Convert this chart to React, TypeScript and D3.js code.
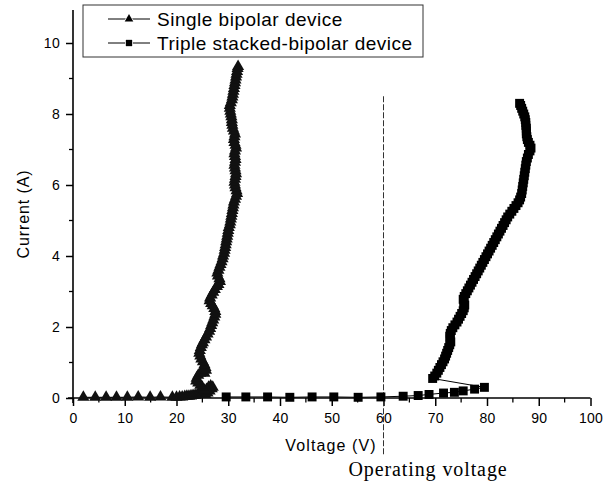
import React, { useEffect, useRef } from "react";
import * as d3 from "d3";

const singleV = [2, 4.3, 6.4, 8.4, 10.5, 12.6, 14.9, 16.9, 19.2,
  20.0, 20.6, 21.1, 21.6, 22.0, 22.4, 22.8, 23.2, 23.6, 24.0, 24.4, 24.8, 25.2, 25.6, 26.0, 26.4, 26.8, 27.0, 26.6, 26.2, 25.8, 25.4, 25.0, 24.6, 24.2, 23.8, 23.9, 24.2, 24.6, 25.0, 25.4, 25.7, 25.6, 25.4, 25.1, 24.8, 24.6, 24.4, 24.5, 24.7, 24.9, 25.1, 25.4, 25.7, 26.0, 26.3, 26.5, 26.7, 26.9, 27.1, 27.3, 27.5, 27.5, 27.3, 27.0, 26.7, 26.4, 26.5, 26.8, 27.1, 27.4, 27.8, 28.1, 28.4, 28.3, 28.0, 27.9, 28.1, 28.3, 28.5, 28.7, 28.9, 29.0, 29.2, 29.3, 29.4, 29.5, 29.6, 29.7, 29.8, 29.9, 30.0, 30.1, 30.3, 30.4, 30.5, 30.6, 30.7, 30.8, 30.9, 31.0, 31.1, 31.3, 31.5, 31.7, 31.6, 31.4, 31.3, 31.2, 31.3, 31.4, 31.5, 31.4, 31.3, 31.2, 31.3, 31.4, 31.3, 31.2, 31.3, 31.5, 31.4, 31.2, 31.1, 31.2, 31.3, 31.1, 30.9, 30.8, 30.7, 30.7, 30.6, 30.5, 30.4, 30.3, 30.3, 30.5, 30.7, 30.8, 30.9, 31.0, 31.1, 31.2, 31.3, 31.4, 31.5, 31.6, 31.7, 31.8, 31.9];
const singleI = [0.02, 0.02, 0.02, 0.02, 0.02, 0.03, 0.02, 0.03, 0.02,
  0.02, 0.03, 0.03, 0.04, 0.05, 0.05, 0.06, 0.07, 0.08, 0.09, 0.1, 0.11, 0.12, 0.1, 0.14, 0.2, 0.26, 0.3, 0.34, 0.3, 0.24, 0.22, 0.3, 0.36, 0.42, 0.48, 0.56, 0.64, 0.7, 0.72, 0.7, 0.78, 0.86, 0.94, 1.02, 1.1, 1.18, 1.26, 1.34, 1.42, 1.5, 1.56, 1.64, 1.72, 1.8, 1.88, 1.96, 2.04, 2.12, 2.2, 2.28, 2.36, 2.44, 2.52, 2.6, 2.66, 2.74, 2.82, 2.9, 2.98, 3.06, 3.14, 3.2, 3.28, 3.36, 3.44, 3.52, 3.6, 3.68, 3.76, 3.84, 3.92, 4.0, 4.08, 4.16, 4.24, 4.32, 4.4, 4.48, 4.56, 4.64, 4.72, 4.8, 4.88, 4.96, 5.04, 5.12, 5.2, 5.28, 5.36, 5.44, 5.52, 5.6, 5.68, 5.76, 5.84, 5.92, 6.0, 6.08, 6.16, 6.24, 6.32, 6.4, 6.48, 6.56, 6.64, 6.72, 6.8, 6.88, 6.96, 7.04, 7.12, 7.2, 7.28, 7.36, 7.44, 7.52, 7.6, 7.68, 7.76, 7.84, 7.92, 8.0, 8.08, 8.16, 8.24, 8.32, 8.4, 8.48, 8.56, 8.64, 8.72, 8.8, 8.88, 8.96, 9.04, 9.12, 9.2, 9.28, 9.34];

const tripleV = [29.6, 33.4, 37.6, 41.9, 46.2, 50.4, 55.1, 59.5, 63.8, 66.7, 68.8, 71.6, 73.7, 75.4, 77.6, 79.5,
  69.5, 69.9, 70.3, 70.6, 70.9, 71.2, 71.5, 71.8, 72.0, 72.2, 72.4, 72.6, 72.8, 73.0, 72.9, 72.8, 72.9, 73.1, 73.4, 73.8, 74.2, 74.5, 74.8, 75.1, 75.4, 75.6, 75.7, 75.5, 75.4, 75.6, 75.9, 76.2, 76.5, 76.8, 77.1, 77.4, 77.7, 78.0, 78.3, 78.6, 78.9, 79.2, 79.5, 79.8, 80.1, 80.4, 80.7, 81.0, 81.3, 81.6, 81.9, 82.2, 82.5, 82.8, 83.1, 83.4, 83.7, 84.0, 84.4, 84.8, 85.2, 85.6, 86.0, 86.3, 86.5, 86.7, 86.8, 86.9, 87.0, 87.1, 87.2, 87.3, 87.4, 87.5, 87.6, 87.8, 88.0, 88.3, 88.5, 88.3, 88.0, 87.8, 87.7, 87.6, 87.6, 87.6, 87.5, 87.5, 87.4, 87.3, 87.1, 86.9, 86.7, 86.5, 86.3];
const tripleI = [0.03, 0.03, 0.03, 0.02, 0.03, 0.03, 0.02, 0.03, 0.05, 0.07, 0.1, 0.14, 0.16, 0.2, 0.25, 0.3,
  0.55, 0.62, 0.7, 0.78, 0.86, 0.94, 1.02, 1.1, 1.18, 1.26, 1.34, 1.42, 1.5, 1.58, 1.66, 1.74, 1.82, 1.9, 1.98, 2.06, 2.14, 2.22, 2.3, 2.38, 2.46, 2.54, 2.62, 2.7, 2.78, 2.86, 2.94, 3.02, 3.1, 3.18, 3.26, 3.34, 3.42, 3.5, 3.58, 3.66, 3.74, 3.82, 3.9, 3.98, 4.06, 4.14, 4.22, 4.3, 4.38, 4.46, 4.54, 4.62, 4.7, 4.78, 4.86, 4.94, 5.02, 5.1, 5.18, 5.26, 5.34, 5.42, 5.5, 5.58, 5.66, 5.76, 5.86, 5.96, 6.06, 6.16, 6.26, 6.36, 6.46, 6.56, 6.66, 6.76, 6.86, 6.96, 7.04, 7.12, 7.2, 7.28, 7.36, 7.44, 7.52, 7.6, 7.68, 7.76, 7.84, 7.92, 8.0, 8.08, 8.16, 8.24, 8.3];

const xTicks = [0, 10, 20, 30, 40, 50, 60, 70, 80, 90, 100];
const yTicks = [0, 2, 4, 6, 8, 10];
const seriesNames = ["Single bipolar device", "Triple stacked-bipolar device"];
const operatingVoltage = 60;

export default function App() {
  const ref = useRef<SVGSVGElement>(null);
  useEffect(() => {
    const svg = d3.select(ref.current);
    svg.selectAll("*").remove();
    const x = d3.scaleLinear().domain([0, 100]).range([73, 590.5]);
    const y = d3.scaleLinear().domain([0, 10]).range([398, 43]);
    const sans = "Liberation Sans, Arial, sans-serif";

    // axes
    const xAxis = d3.axisBottom(x).tickValues(xTicks).tickSize(8).tickPadding(7).tickFormat(d3.format("d"));
    const gx = svg.append("g").attr("transform", `translate(0,${y(0)})`).call(xAxis);
    gx.select(".domain").attr("d", `M${x(0) - 5},0H${x(100)}`).attr("stroke-width", 1.6);
    gx.selectAll(".tick line").attr("stroke-width", 1.5);
    gx.selectAll(".tick text").attr("font-family", sans).attr("font-size", 14).attr("letter-spacing", 0.3);
    const minorX = d3.range(5, 100, 10);
    gx.selectAll(".minor").data(minorX).enter().append("line")
      .attr("x1", (d) => x(d)).attr("x2", (d) => x(d)).attr("y1", 0).attr("y2", 4.5)
      .attr("stroke", "#000").attr("stroke-width", 1.3);

    const yAxis = d3.axisLeft(y).tickValues(yTicks).tickSize(7).tickPadding(6).tickFormat(d3.format("d"));
    const gy = svg.append("g").attr("transform", `translate(${x(0)},0)`).call(yAxis);
    gy.select(".domain").attr("d", `M0,${y(0) + 5}V${y(10.93)}`).attr("stroke-width", 1.6);
    gy.selectAll(".tick line").attr("stroke-width", 1.5);
    gy.selectAll(".tick text").attr("font-family", sans).attr("font-size", 14).attr("letter-spacing", 0.3);
    const minorY = d3.range(1, 11, 2);
    gy.selectAll(".minor").data(minorY).enter().append("line")
      .attr("y1", (d) => y(d)).attr("y2", (d) => y(d)).attr("x1", 0).attr("x2", -4)
      .attr("stroke", "#000").attr("stroke-width", 1.3);

    // titles
    svg.append("text").attr("x", 331).attr("y", 451).attr("text-anchor", "middle")
      .attr("font-family", sans).attr("font-size", 16).attr("letter-spacing", 1.1).text("Voltage (V)");
    svg.append("text").attr("transform", `translate(29,214) rotate(-90)`).attr("text-anchor", "middle")
      .attr("font-family", sans).attr("font-size", 16).attr("letter-spacing", 0.9).text("Current (A)");
    svg.append("text").attr("x", 428).attr("y", 476).attr("text-anchor", "middle")
      .attr("font-family", "Liberation Serif, Times New Roman, serif").attr("font-size", 20)
      .attr("letter-spacing", 0.9).text("Operating voltage");

    // operating voltage dashed line
    svg.append("line").attr("x1", x(operatingVoltage)).attr("x2", x(operatingVoltage))
      .attr("y1", y(8.5)).attr("y2", 456).attr("stroke", "#333").attr("stroke-width", 1)
      .attr("stroke-dasharray", "6,2");

    // series
    const line = d3.line<[number, number]>().x((d) => x(d[0])).y((d) => y(d[1]));
    const s1: [number, number][] = singleV.map((v, i) => [v, singleI[i]]);
    const s2: [number, number][] = tripleV.map((v, i) => [v, tripleI[i]]);
    svg.append("path").attr("d", line(s1)).attr("fill", "none").attr("stroke", "#000").attr("stroke-width", 1);
    svg.append("path").attr("d", line(s2)).attr("fill", "none").attr("stroke", "#000").attr("stroke-width", 1);
    const tri = d3.symbol().type(d3.symbolTriangle).size(64);
    const sq = d3.symbol().type(d3.symbolSquare).size(80);
    svg.append("g").selectAll("path").data(s1).enter().append("path")
      .attr("d", tri()).attr("transform", (d) => `translate(${x(d[0])},${y(d[1])})`).attr("fill", "#111");
    svg.append("g").selectAll("path").data(s2).enter().append("path")
      .attr("d", sq()).attr("transform", (d) => `translate(${x(d[0])},${y(d[1])})`).attr("fill", "#000");

    // legend
    const lg = svg.append("g");
    lg.append("rect").attr("x", 83).attr("y", 5).attr("width", 340).attr("height", 52)
      .attr("fill", "#fff").attr("stroke", "#333").attr("stroke-width", 1);
    const ltri = d3.symbol().type(d3.symbolTriangle).size(32);
    const lsq = d3.symbol().type(d3.symbolSquare).size(40);
    [0, 1].forEach((i) => {
      const cy = 19 + i * 24;
      lg.append("line").attr("x1", 108).attr("x2", 150).attr("y1", cy).attr("y2", cy)
        .attr("stroke", "#000").attr("stroke-width", 1);
      lg.append("path").attr("d", i === 0 ? ltri() : lsq())
        .attr("transform", `translate(129,${cy})`).attr("fill", "#000")
        .attr("stroke", "#fff").attr("stroke-width", 1.5).attr("paint-order", "stroke");
      lg.append("text").attr("x", 157).attr("y", cy + 6.5).attr("font-family", sans)
        .attr("font-size", 19).attr("letter-spacing", 0.5).text(seriesNames[i]);
    });
  }, []);
  return (
    <svg ref={ref} width={613} height={488} style={{ position: "absolute", left: 0, top: 0, background: "#fff" }} />
  );
}
